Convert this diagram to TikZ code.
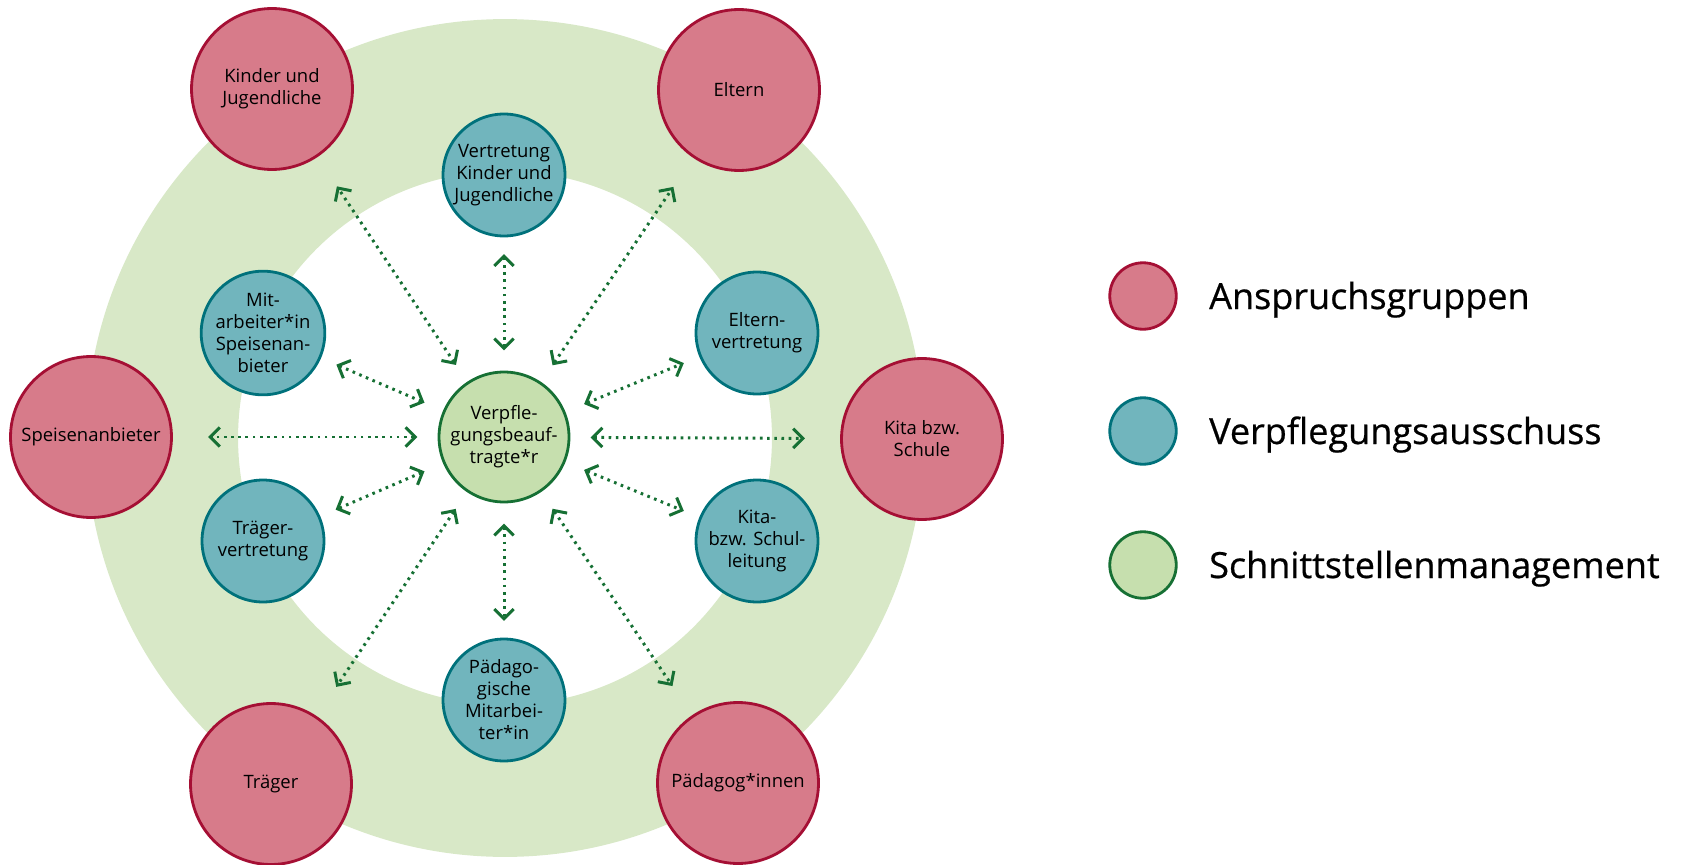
\documentclass[tikz,border=0pt]{standalone}
\usepackage{fontspec}
\setmainfont{Open Sans}
\newfontfamily\keyfont{Open Sans}[FakeBold=0.6]
\usetikzlibrary{arrows.meta}
\definecolor{redfill}{RGB}{215,123,138}
\definecolor{reddraw}{RGB}{165,15,52}
\definecolor{tealfill}{RGB}{113,181,189}
\definecolor{tealdraw}{RGB}{0,113,123}
\definecolor{greenfill}{RGB}{198,223,174}
\definecolor{greendraw}{RGB}{22,112,52}
\definecolor{ringgreen}{RGB}{216,232,199}

\begin{document}
\begin{tikzpicture}
    [
        x=0.02cm, y=-0.02cm,
        red_node/.style={circle, draw=reddraw, fill=redfill, line width=1.6pt, minimum size=3.22cm, inner sep=0pt, align=center, font=\fontsize{10.5}{12.5}\selectfont},
        teal_node/.style={circle, draw=tealdraw, fill=tealfill, line width=1.6pt, minimum size=2.44cm, inner sep=0pt, align=center, font=\fontsize{10.5}{12.5}\selectfont},
        green_node/.style={circle, draw=greendraw, fill=greenfill, line width=1.6pt, minimum size=2.6cm, inner sep=0pt, align=center, font=\fontsize{10.5}{12.5}\selectfont},
        key_text/.style={anchor=base west, font=\keyfont\fontsize{20.5}{24}\selectfont},
        link/.style={greendraw, line width=1.7pt, dash pattern=on 1.5pt off 2.6pt, {Straight Barb[length=5.5pt,width=11pt]}-{Straight Barb[length=5.5pt,width=11pt]}, shorten <=11.5pt},
        to_teal/.style={link, shorten >=9.5pt},
        to_red/.style={link, shorten >=20pt},
    ]

  \useasboundingbox (0,0) rectangle (1690,865);
  \fill[ringgreen, even odd rule] (505,438) circle (8.38cm) (505,438) circle (5.34cm);

  \node[green_node] (vb) at (504,437) {Verpfle-\\gungsbeauf-\\tragte*r};

  \node[teal_node] (vkj) at (504,175) {Vertretung\\Kinder und\\Jugendliche};
  \node[teal_node] (mas) at (263,333) {Mit-\\arbeiter*in\\Speisenan-\\bieter};
  \node[teal_node] (ev) at (757,333) {Eltern-\\vertretung};
  \node[teal_node] (tv) at (263,541) {Träger-\\vertretung};
  \node[teal_node] (ksl) at (757,541) {Kita-\\bzw. Schul-\\leitung};
  \node[teal_node] (pm) at (504,700) {Pädago-\\gische\\Mitarbei-\\ter*in};

  \node[red_node] (kj) at (272,89) {Kinder und\\Jugendliche};
  \node[red_node] (el) at (739,90) {Eltern};
  \node[red_node] (sa) at (91,437) {Speisenanbieter};
  \node[red_node] (ks) at (922,439) {Kita bzw.\\Schule};
  \node[red_node] (tr) at (271,784) {Träger};
  \node[red_node] (pi) at (738,783) {Pädagog*innen};

  \draw[to_teal] (vb) -- (vkj);
  \draw[to_teal] (vb) -- (mas);
  \draw[to_teal] (vb) -- (ev);
  \draw[to_teal] (vb) -- (tv);
  \draw[to_teal] (vb) -- (ksl);
  \draw[to_teal] (vb) -- (pm);
  \draw[to_red] (vb) -- (kj);
  \draw[to_red] (vb) -- (el);
  \draw[to_red] (vb) -- (sa);
  \draw[to_red] (vb) -- (ks);
  \draw[to_red] (vb) -- (tr);
  \draw[to_red] (vb) -- (pi);

  \node[red_node, minimum size=1.33cm] (la) at (1143,296) {};
  \node[teal_node, minimum size=1.33cm] (lb) at (1143,431) {};
  \node[green_node, minimum size=1.33cm] (lc) at (1143,565) {};
  \node[key_text] (ta) at (1203,309) {Anspruchsgruppen};
  \node[key_text] (tb) at (1203,444) {Verpflegungsausschuss};
  \node[key_text] (tc) at (1203,578) {Schnittstellenmanagement};
\end{tikzpicture}
\end{document}
